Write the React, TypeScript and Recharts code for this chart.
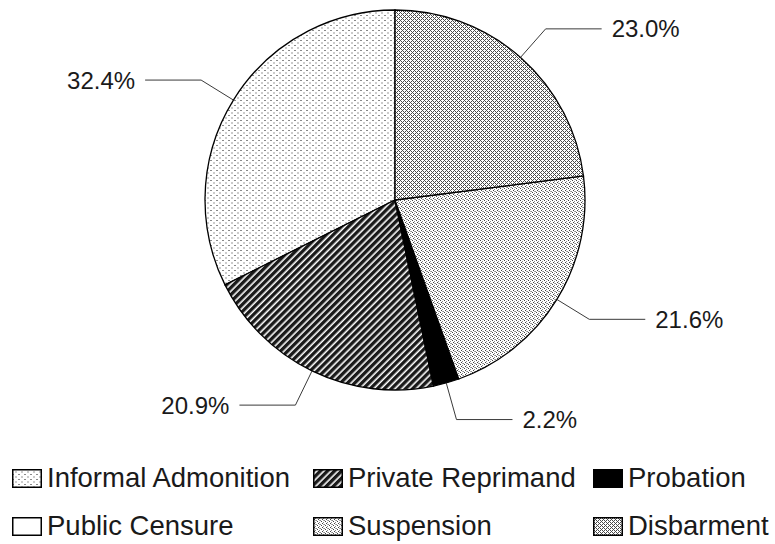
import React from "react";
import { PieChart, Pie, Cell, Legend } from "recharts";

const categories = [
  "Informal Admonition",
  "Private Reprimand",
  "Probation",
  "Public Censure",
  "Suspension",
  "Disbarment",
];
const values = [32.4, 20.9, 2.2, 0, 21.6, 23.0];
const fills = [
  "url(#pInformal)",
  "url(#pPrivate)",
  "#000000",
  "#ffffff",
  "url(#pSuspension)",
  "url(#pDisbarment)",
];

const data = categories.map((name, i) => ({ name, value: values[i] }));

const FONT = '"Liberation Sans", Arial, sans-serif';
const RADIAN = Math.PI / 180;

const renderLabel = (props: any) => {
  const { cx, cy, midAngle, outerRadius, value } = props;
  if (!value) return null;
  const cos = Math.cos(-midAngle * RADIAN);
  const sin = Math.sin(-midAngle * RADIAN);
  const sx = cx + outerRadius * cos;
  const sy = cy + outerRadius * sin;
  const mx = cx + outerRadius * 1.2 * cos;
  const my = cy + outerRadius * 1.2 * sin;
  const dir = cos >= 0 ? 1 : -1;
  const ex = mx + dir * 56;
  const tx = ex + dir * 10;
  return (
    <g>
      <path
        d={`M${sx},${sy}L${mx},${my}L${ex},${my}`}
        stroke="#3a3a3a"
        strokeWidth={1}
        fill="none"
      />
      <text
        x={tx}
        y={my}
        textAnchor={dir > 0 ? "start" : "end"}
        dominantBaseline="central"
        fontFamily={FONT}
        fontSize={24}
        fill="#1a1a1a"
      >
        {`${Number(value).toFixed(1)}%`}
      </text>
    </g>
  );
};

const renderLegend = () => (
  <div
    style={{
      display: "grid",
      gridTemplateColumns: "301px 280px 170px",
      columnGap: 0,
      rowGap: 20,
      justifyContent: "start",
      paddingLeft: 12,
      fontFamily: FONT,
      fontSize: 27.5,
      lineHeight: "28px",
      color: "#1a1a1a",
    }}
  >
    {categories.map((name, i) => (
      <div key={name} style={{ display: "flex", alignItems: "center", whiteSpace: "nowrap" }}>
        <svg width={30} height={19} style={{ marginRight: 5, flex: "none" }}>
          <rect x={0.75} y={0.75} width={28.5} height={17.5} fill={fills[i]} stroke="#000" strokeWidth={1.5} />
        </svg>
        <span>{name}</span>
      </div>
    ))}
  </div>
);

export default function App() {
  return (
    <div style={{ position: "absolute", left: 0, top: 0, width: 775, height: 544, background: "#fff" }}>
      <PieChart width={775} height={544} margin={{ top: 0, right: 0, bottom: 0, left: 0 }}>
        <defs>
          <pattern id="pInformal" width="6" height="5" patternUnits="userSpaceOnUse">
            <rect width="6" height="5" fill="#ffffff" />
            <rect x="0" y="0" width="2" height="1" fill="#8a8a8a" />
            <rect x="3" y="2.5" width="2" height="1" fill="#9a9a9a" />
          </pattern>
          <pattern id="pDisbarment" width="4" height="4" patternUnits="userSpaceOnUse">
            <rect width="4" height="4" fill="#ffffff" />
            <rect x="0" y="0" width="1" height="1" fill="#4a4a4a" />
            <rect x="1" y="1" width="1" height="1" fill="#4a4a4a" />
            <rect x="2" y="2" width="1" height="1" fill="#4a4a4a" />
            <rect x="3" y="3" width="1" height="1" fill="#4a4a4a" />
            <rect x="3" y="1" width="1" height="1" fill="#4a4a4a" />
            <rect x="1" y="3" width="1" height="1" fill="#4a4a4a" />
          </pattern>
          <pattern id="pSuspension" width="4" height="4" patternUnits="userSpaceOnUse">
            <rect width="4" height="4" fill="#ffffff" />
            <rect x="0" y="0" width="1" height="1" fill="#444" />
            <rect x="2" y="1" width="1" height="1" fill="#888" />
            <rect x="1" y="2" width="1" height="1" fill="#444" />
            <rect x="3" y="3" width="1" height="1" fill="#888" />
            <rect x="2" y="3" width="1" height="1" fill="#aaa" />
          </pattern>
          <pattern
            id="pPrivate"
            width="5"
            height="5"
            patternUnits="userSpaceOnUse"
            patternTransform="rotate(45)"
          >
            <rect width="5" height="5" fill="#ffffff" />
            <rect width="3.4" height="5" fill="#1a1a1a" />
          </pattern>
        </defs>
        <Pie
          data={data}
          dataKey="value"
          nameKey="name"
          cx={395}
          cy={200}
          outerRadius={190}
          startAngle={90}
          endAngle={450}
          stroke="#000"
          strokeWidth={1.3}
          label={renderLabel}
          labelLine={false}
          isAnimationActive={false}
        >
          {data.map((d, i) => (
            <Cell key={d.name} fill={fills[i]} />
          ))}
        </Pie>
        <Legend
          content={renderLegend}
          wrapperStyle={{ position: "absolute", left: 0, top: 464, width: 775, height: 80 }}
        />
      </PieChart>
    </div>
  );
}
